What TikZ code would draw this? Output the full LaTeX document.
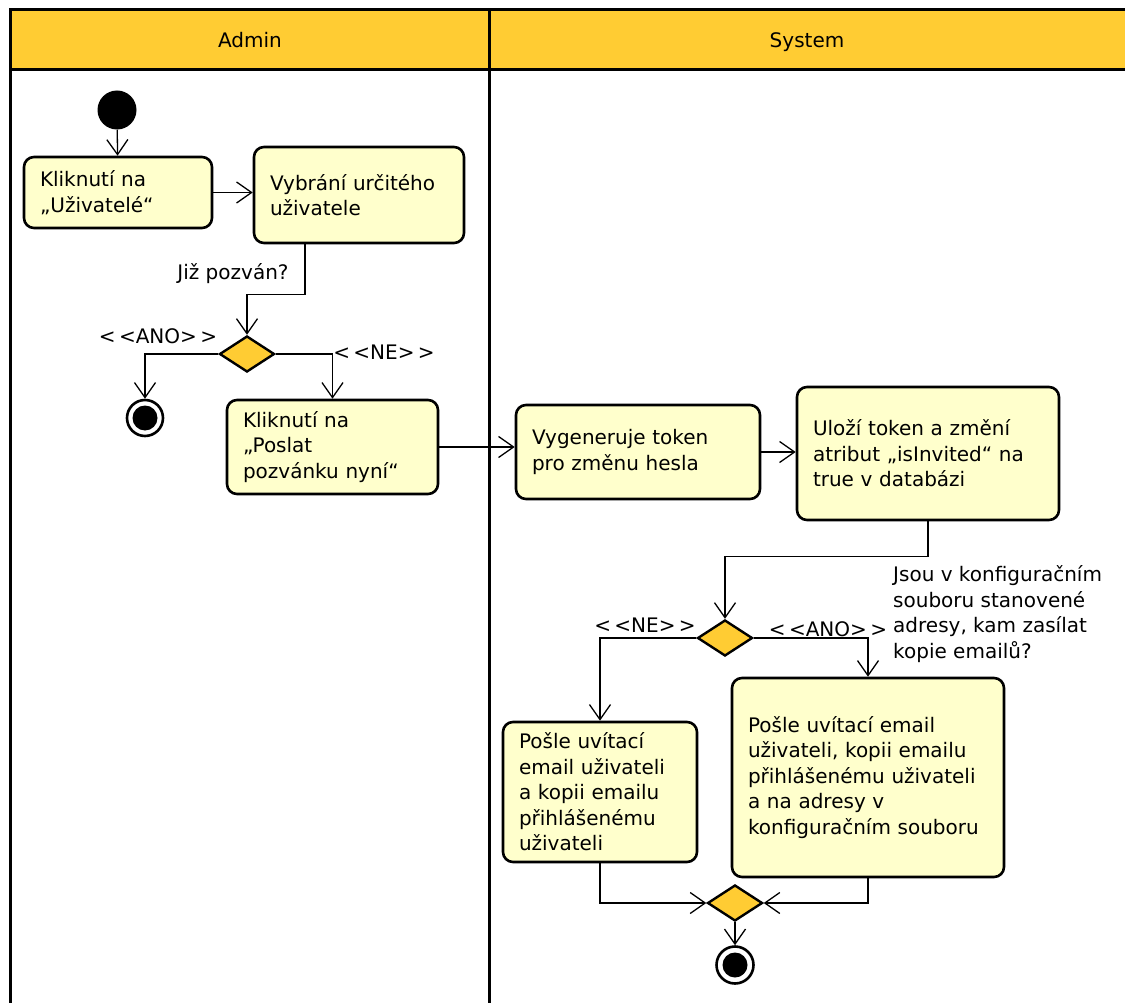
\documentclass[tikz,border=0pt]{standalone}
\usepackage{fontspec}
\setmainfont{DejaVu Sans}
\usetikzlibrary{shapes.geometric, arrows.meta}
\definecolor{lanegold}{HTML}{FFCC33}
\definecolor{actfill}{HTML}{FFFFCC}
\begin{document}
\begin{tikzpicture}[x=1pt, y=-1pt,
  font=\fontsize{20}{25.5}\selectfont,
  act/.style={draw, line width=2.6pt, rounded corners=10pt, fill=actfill,
    align=left, inner xsep=16pt, inner ysep=0pt},
  decision/.style={diamond, draw, line width=2.4pt, fill=lanegold,
    minimum width=55pt, minimum height=36pt, inner sep=0pt},
  startnode/.style={circle, fill=black, minimum size=39pt, inner sep=0pt},
  endnode/.style={circle, draw, line width=2.6pt, fill=white,
    minimum size=36pt, inner sep=0pt,
    path picture={\fill[black] (path picture bounding box.center) circle (12.5pt);}},
  flow/.style={line width=1.3pt,
    -{Straight Barb[length=15pt, width=21pt, line width=1.3pt]}},
  lbl/.style={inner sep=0pt, align=left},
  lanehead/.style={text height=15pt, text depth=5pt},
  lane/.style={line width=3pt}
]
\useasboundingbox (0,0) rectangle (1125,1003);
\clip (0,0) rectangle (1125,1003);

% swimlane partition
\fill[lanegold] (10,10) rectangle (1140,70);
\draw[lane] (10,1020) -- (10,10) -- (1140,10);
\draw[lane] (10,70) -- (1140,70);
\draw[lane] (489,10) -- (489,1020);
\node[lanehead] (hadmin) at (250,43) {Admin};
\node[lanehead] (hsys) at (807,43) {System};

% Admin lane
\node[startnode] (start) at (117,110) {};
\node[act, text width=156pt, minimum height=71pt] (b1) at (118,192.5)
  {Kliknutí na\\„Uživatelé“};
\node[act, text width=178pt, minimum height=96pt] (b2) at (359,195)
  {Vybrání určitého\\uživatele};
\node[decision] (d1) at (247,354) {};
\node[endnode] (e1) at (145,418) {};
\node[act, text width=179pt, minimum height=94pt] (b3) at (332.5,447)
  {Kliknutí na\\„Poslat\\pozvánku nyní“};

% System lane
\node[act, text width=212pt, minimum height=94pt] (b4) at (638,452)
  {Vygeneruje token\\pro změnu hesla};
\node[act, text width=230pt, minimum height=133pt] (b5) at (928,453.5)
  {Uloží token a změní\\atribut „isInvited“ na\\true v databázi};
\node[decision] (d2) at (725,638) {};
\node[act, text width=162pt, minimum height=140pt] (b6) at (600,792)
  {Pošle uvítací\\email uživateli\\a kopii emailu\\přihlášenému\\uživateli};
\node[act, text width=240pt, minimum height=199pt] (b7) at (868,777.5)
  {Pošle uvítací email\\uživateli, kopii emailu\\přihlášenému uživateli\\a na adresy v\\konfiguračním souboru};
\node[decision] (d3) at (735,903) {};
\node[endnode, minimum size=37pt] (e2) at (735,965) {};

% guard and question labels
\node[lbl] (q1) at (233,274) {Již pozván?};
\node[lbl] (g1) at (158,336) {<\,<ANO>\,>};
\node[lbl] (g2) at (384,352) {<\,<NE>\,>};
\node[lbl, anchor=west] (q2) at (893,614)
  {Jsou v konfiguračním\\souboru stanovené\\adresy, kam zasílat\\kopie emailů?};
\node[lbl] (g3) at (645,625) {<\,<NE>\,>};
\node[lbl] (g4) at (828,629) {<\,<ANO>\,>};

% control flow
\draw[flow] (start) -- (b1);
\draw[flow] (b1.east) -- (b2.west |- b1.east);
\draw[flow] ([xshift=-54pt]b2.south) -- ++(0,50) -| (d1.north);
\draw[flow] (d1.west) -| (e1.north);
\draw[flow] (d1.east) -| (b3.north);
\draw[flow] (b3.east) -- (b4.west |- b3.east);
\draw[flow] (b4.east) -- (b5.west |- b4.east);
\draw[flow] (b5.south) -- ++(0,35) -| (d2.north);
\draw[flow] (d2.west) -| (b6.north);
\draw[flow] (d2.east) -| (b7.north);
\draw[flow] (b6.south) |- (d3.west);
\draw[flow] (b7.south) |- (d3.east);
\draw[flow] (d3.south) -- (e2.north);
\end{tikzpicture}
\end{document}
